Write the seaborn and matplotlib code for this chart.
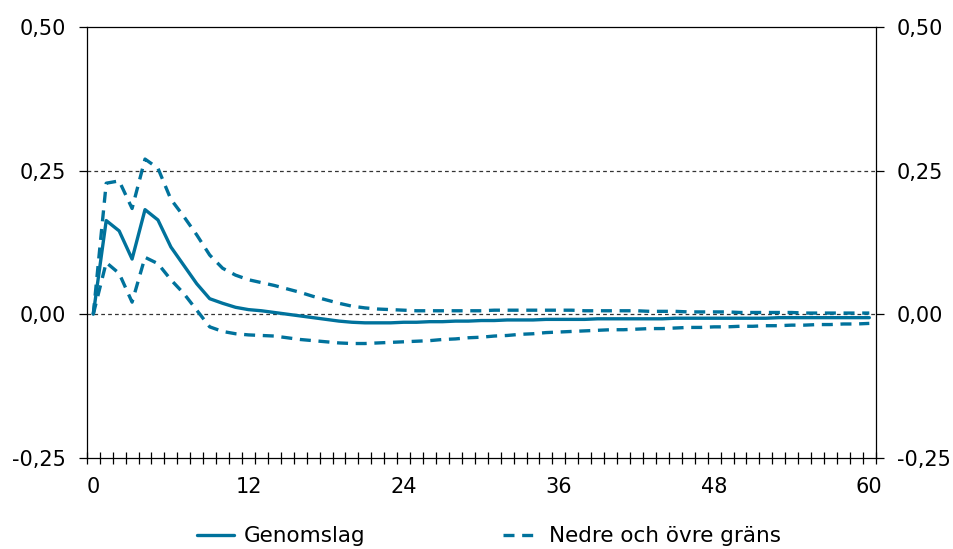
import numpy as np
import pandas as pd
import matplotlib
matplotlib.use('Agg')
import matplotlib.pyplot as plt
import matplotlib.ticker as mticker
import seaborn as sns

# Data (months 0..60)
months = list(range(61))
genomslag = [0, 0.163, 0.145, 0.096, 0.182, 0.164, 0.117, 0.085, 0.053, 0.027,
             0.019, 0.012, 0.008, 0.006, 0.003, 0.000, -0.003, -0.006, -0.009, -0.012,
             -0.014, -0.015, -0.015, -0.015, -0.014, -0.014, -0.013, -0.013, -0.012, -0.012,
             -0.011, -0.011, -0.010, -0.010, -0.010, -0.009, -0.009, -0.009, -0.009, -0.008,
             -0.008, -0.008, -0.008, -0.008, -0.008, -0.007, -0.007, -0.007, -0.007, -0.007,
             -0.007, -0.007, -0.007, -0.006, -0.006, -0.006, -0.006, -0.006, -0.006, -0.006,
             -0.006]
ovre = [0, 0.228, 0.232, 0.184, 0.270, 0.254, 0.200, 0.170, 0.138, 0.103,
        0.080, 0.068, 0.060, 0.055, 0.050, 0.044, 0.038, 0.031, 0.025, 0.019,
        0.014, 0.011, 0.009, 0.008, 0.007, 0.006, 0.006, 0.006, 0.006, 0.006,
        0.006, 0.007, 0.007, 0.007, 0.007, 0.007, 0.007, 0.007, 0.006, 0.006,
        0.006, 0.006, 0.006, 0.005, 0.005, 0.005, 0.004, 0.004, 0.004, 0.004,
        0.003, 0.003, 0.003, 0.003, 0.003, 0.002, 0.002, 0.002, 0.002, 0.002,
        0.002]
nedre = [0, 0.090, 0.071, 0.021, 0.099, 0.088, 0.060, 0.036, 0.007, -0.022,
         -0.030, -0.034, -0.036, -0.037, -0.038, -0.041, -0.044, -0.046, -0.048, -0.050,
         -0.051, -0.051, -0.050, -0.049, -0.048, -0.047, -0.046, -0.044, -0.043, -0.041,
         -0.040, -0.038, -0.037, -0.035, -0.034, -0.032, -0.031, -0.030, -0.029, -0.028,
         -0.027, -0.027, -0.026, -0.025, -0.025, -0.024, -0.023, -0.023, -0.022, -0.022,
         -0.021, -0.021, -0.020, -0.020, -0.019, -0.019, -0.018, -0.018, -0.017, -0.017,
         -0.016]
x_ticks = [0, 12, 24, 36, 48, 60]
y_ticks = [-0.25, 0.0, 0.25, 0.50]

df = pd.DataFrame({'month': months, 'genomslag': genomslag, 'ovre': ovre, 'nedre': nedre})

sns.set_style('white')
plt.rcParams['font.family'] = ['DejaVu Sans']
plt.rcParams['font.size'] = 15
plt.rcParams['text.color'] = 'black'
plt.rcParams['xtick.color'] = 'black'
plt.rcParams['ytick.color'] = 'black'

blue = '#00729c'
dash = (0, (3.3, 2.3))

fig, ax = plt.subplots(figsize=(9.54, 5.49), dpi=100)
fig.subplots_adjust(left=0.091, right=0.918, top=0.951, bottom=0.166)

sns.lineplot(data=df, x='month', y='genomslag', ax=ax, color=blue, lw=2.4,
             label='Genomslag')
sns.lineplot(data=df, x='month', y='ovre', ax=ax, color=blue, lw=2.4,
             label='Nedre och övre gräns')
sns.lineplot(data=df, x='month', y='nedre', ax=ax, color=blue, lw=2.4)
for line in ax.lines[1:]:
    line.set_linestyle(dash)

# dashed reference lines
for yv in [0.0, 0.25]:
    ax.axhline(yv, color='#333333', lw=0.9, ls=(0, (3, 2.5)), zorder=0)

ax.set_xlim(-0.5, 60.5)
ax.set_ylim(-0.25, 0.50)
ax.set_xticks(x_ticks)
ax.set_xticks(np.arange(-0.5, 61, 1), minor=True)
ax.set_yticks(y_ticks)
ax.yaxis.set_major_formatter(mticker.FuncFormatter(lambda v, _: f'{v:.2f}'.replace('.', ',')))
ax.tick_params(axis='x', which='major', length=0, pad=14, labelsize=15, labelcolor='black')
ax.tick_params(axis='x', which='minor', bottom=True, direction='inout', length=8,
               width=0.9, color='black')
ax.tick_params(axis='y', which='major', direction='out', length=6, width=0.9,
               left=True, right=True, labelleft=True, labelright=True, labelsize=15,
               pad=9, color='black', labelcolor='black')
for s in ax.spines.values():
    s.set_visible(True)
    s.set_color('black')
    s.set_linewidth(0.9)
ax.set_xlabel('')
ax.set_ylabel('')

handles, labels = ax.get_legend_handles_labels()
ax.get_legend().remove()
fig.legend(handles, labels, loc='lower center', bbox_to_anchor=(0.513, -0.03), ncol=2,
           frameon=False, fontsize=15.5, handlelength=1.7, handletextpad=0.45,
           columnspacing=6.4)

plt.savefig('out.png', dpi=100)
plt.close()
print("Chart saved")
